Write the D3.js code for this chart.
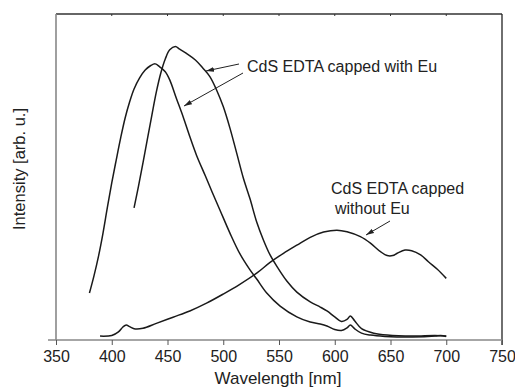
<!DOCTYPE html>
<html>
<head>
<meta charset="utf-8">
<script src="https://cdn.jsdelivr.net/npm/d3@7"></script>
<style>
  body { margin: 0; background: #fff; }
  text { font-family: "Liberation Sans", Arial, sans-serif; fill: #222; }
</style>
</head>
<body>
<svg width="515" height="390"></svg>
<script>
// Wavelength [nm] and intensity (arb. u.)
var eu1Wl = [380, 384, 388, 392, 396, 400, 404, 408, 412, 416, 420, 425, 430, 435, 439, 443, 448, 452, 458, 464, 470, 476, 484, 490, 497, 506, 515, 524, 530, 539, 551, 566, 578, 587, 593, 600, 606, 611, 614, 618, 624, 632, 645, 670, 690, 695, 700];
var eu1Val = [14.4, 19.6, 25.5, 32.5, 40.5, 48.2, 55.2, 62.0, 68.1, 73.0, 77.0, 80.4, 82.8, 84.2, 84.7, 83.8, 82.3, 79.8, 74.1, 68.5, 62.4, 56.7, 50.3, 45.4, 39.9, 32.8, 26.4, 21.5, 18.7, 14.4, 10.4, 7.1, 5.5, 4.9, 4.3, 3.2, 2.9, 3.7, 4.6, 3.4, 2.1, 1.5, 1.1, 0.9, 1.2, 1.4, 1.1];

var eu2Wl = [420, 424, 428, 432, 436, 440, 444, 448, 452, 457, 461, 467, 475, 482, 488, 494, 500, 506, 512, 518, 524, 530, 536, 542, 549, 557, 566, 578, 587, 593, 600, 606, 611, 614, 618, 624, 635, 647, 670, 690, 700];
var eu2Val = [40.5, 47.2, 54.3, 61.7, 69.0, 76.1, 81.9, 86.2, 89.0, 90.0, 89.2, 87.9, 85.9, 83.3, 80.8, 76.7, 71.6, 65.0, 57.4, 49.7, 43.3, 36.2, 30.7, 26.1, 22.1, 18.1, 14.7, 11.7, 10.1, 8.9, 7.1, 5.7, 6.3, 7.4, 5.8, 3.5, 2.1, 1.5, 1.2, 1.4, 1.2];

var noEuWl = [389.5, 400, 406, 410, 413, 416, 421, 428, 440, 455, 470, 485, 500, 514.5, 530, 542, 554, 566, 578, 590, 602, 611, 623, 632, 641, 647, 652, 656, 663, 669, 677, 684, 692, 700];
var noEuVal = [1.2, 1.4, 2.5, 4.0, 4.6, 4.1, 3.4, 3.6, 5.1, 7.0, 8.9, 11.3, 14.1, 17.0, 20.5, 23.8, 26.6, 29.1, 31.5, 33.1, 33.7, 33.2, 31.7, 29.7, 27.1, 25.9, 25.9, 26.6, 27.6, 27.4, 26.1, 24.0, 21.7, 18.9];

var xTicks = [350, 400, 450, 500, 550, 600, 650, 700, 750];

var svg = d3.select("svg"),
    plotL = 56, plotR = 502, plotT = 14, plotB = 340;

var x = d3.scaleLinear().domain([350, 750]).range([plotL, plotR]);
var y = d3.scaleLinear().domain([0, 100]).range([plotB, plotT]);

function zip(wl, val) {
    return wl.map(function(d, i) { return [d, val[i]]; });
}

// arrowhead
svg.append("defs").append("marker")
    .attr("id", "arr")
    .attr("viewBox", "0 0 10 6")
    .attr("refX", 10).attr("refY", 3)
    .attr("markerWidth", 8).attr("markerHeight", 5)
    .attr("markerUnits", "userSpaceOnUse")
    .attr("orient", "auto")
    .append("path").attr("d", "M0,0 L10,3 L0,6 Z").attr("fill", "#222");

// frame: top and right dark, left and bottom grey
svg.append("line").attr("x1", plotL).attr("x2", plotR).attr("y1", plotT).attr("y2", plotT)
    .attr("stroke", "#333").attr("stroke-width", 1.3);
svg.append("line").attr("x1", plotR).attr("x2", plotR).attr("y1", plotT).attr("y2", plotB + 5)
    .attr("stroke", "#222").attr("stroke-width", 1.3);
svg.append("line").attr("x1", plotL).attr("x2", plotL).attr("y1", plotT).attr("y2", plotB)
    .attr("stroke", "#888").attr("stroke-width", 1.6);

// bottom axis
var xAxis = svg.append("g")
    .attr("transform", "translate(0," + plotB + ")")
    .call(d3.axisBottom(x).tickValues(xTicks).tickSize(5).tickPadding(6).tickFormat(d3.format("d")));
xAxis.select(".domain").attr("d", "M" + (plotL - 8) + ",0H" + plotR).attr("stroke", "#888").attr("stroke-width", 1.6);
xAxis.selectAll(".tick line").attr("stroke", "#555");
xAxis.selectAll(".tick text").attr("font-size", 16).attr("fill", "#222")
    .style("font-family", "'Liberation Sans', Arial, sans-serif");

// small top ticks
svg.selectAll(".ttick").data(xTicks.slice(1, -1)).enter().append("line")
    .attr("x1", function(d) { return x(d); }).attr("x2", function(d) { return x(d); })
    .attr("y1", plotT).attr("y2", plotT + 2)
    .attr("stroke", "#333");

// curves
var line = d3.line()
    .x(function(d) { return x(d[0]); })
    .y(function(d) { return y(d[1]); })
    .curve(d3.curveCatmullRom.alpha(0.5));

[zip(eu1Wl, eu1Val), zip(eu2Wl, eu2Val), zip(noEuWl, noEuVal)].forEach(function(s) {
    svg.append("path").datum(s).attr("d", line)
        .attr("fill", "none").attr("stroke", "#1a1a1a").attr("stroke-width", 1.5);
});

// annotations
svg.append("text").attr("x", 247).attr("y", 72).attr("font-size", 16).text("CdS EDTA capped with Eu");
svg.append("text").attr("x", 331).attr("y", 194).attr("font-size", 16).text("CdS EDTA capped");
svg.append("text").attr("x", 335).attr("y", 214).attr("font-size", 16).text("without Eu");

var arrows = [
    [239, 64, 206, 71],
    [243, 73, 184, 106],
    [390, 221, 366, 235]
];
svg.selectAll(".arrow").data(arrows).enter().append("line")
    .attr("x1", function(d) { return d[0]; }).attr("y1", function(d) { return d[1]; })
    .attr("x2", function(d) { return d[2]; }).attr("y2", function(d) { return d[3]; })
    .attr("stroke", "#222").attr("stroke-width", 1)
    .attr("marker-end", "url(#arr)");

// axis titles
svg.append("text").attr("x", 278).attr("y", 384)
    .attr("text-anchor", "middle").attr("font-size", 17).text("Wavelength [nm]");
svg.append("text").attr("transform", "translate(25,169) rotate(-90)")
    .attr("text-anchor", "middle").attr("font-size", 16.5).text("Intensity [arb. u.]");
</script>
</body>
</html>
